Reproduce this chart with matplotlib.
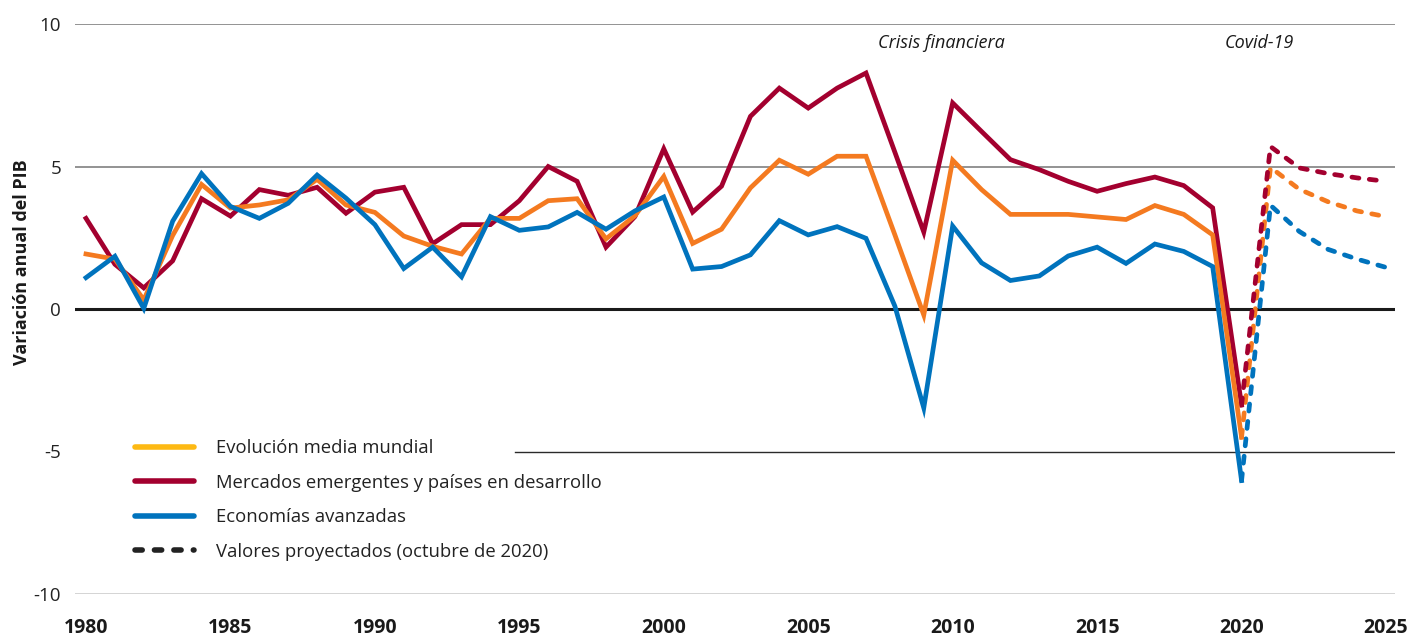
import matplotlib
matplotlib.use("Agg")
import matplotlib.pyplot as plt
from matplotlib.lines import Line2D

plt.rcParams['font.family'] = ['Open Sans', 'DejaVu Sans']

years = list(range(1980, 2021))
world = [1.93, 1.75, 0.32, 2.58, 4.37, 3.54, 3.65, 3.83, 4.55, 3.65,
         3.39, 2.56, 2.20, 1.93, 3.18, 3.18, 3.80, 3.87, 2.46, 3.27,
         4.65, 2.30, 2.80, 4.25, 5.22, 4.73, 5.36, 5.36, 2.60, -0.21,
         5.22, 4.19, 3.32, 3.32, 3.32, 3.23, 3.14, 3.63, 3.32, 2.60,
         -4.50]
emde = [3.18, 1.57, 0.74, 1.69, 3.87, 3.26, 4.19, 3.99, 4.27, 3.36,
        4.10, 4.27, 2.29, 2.96, 2.96, 3.80, 5.00, 4.48, 2.17, 3.24,
        5.62, 3.40, 4.31, 6.76, 7.75, 7.05, 7.75, 8.28, 5.50, 2.70,
        7.23, 6.23, 5.24, 4.89, 4.48, 4.13, 4.40, 4.63, 4.33, 3.55,
        -3.37]
adv = [1.10, 1.85, 0.02, 3.08, 4.75, 3.60, 3.18, 3.71, 4.70, 3.89,
       2.96, 1.42, 2.17, 1.13, 3.24, 2.76, 2.88, 3.39, 2.80, 3.44,
       3.93, 1.40, 1.49, 1.90, 3.10, 2.60, 2.89, 2.48, 0.10, -3.47,
       2.91, 1.62, 1.00, 1.16, 1.86, 2.17, 1.60, 2.28, 2.02, 1.49,
       -6.02]

proj_years = [2020, 2021, 2022, 2023, 2024, 2025]
world_proj = [-4.50, 4.97, 4.20, 3.76, 3.44, 3.24]
emde_proj = [-3.37, 5.70, 4.95, 4.75, 4.60, 4.48]
adv_proj = [-6.02, 3.64, 2.72, 2.09, 1.75, 1.46]

yticks = [-10, -5, 0, 5, 10]
xticks = [1980, 1985, 1990, 1995, 2000, 2005, 2010, 2015, 2020, 2025]

labels = ["Evolución media mundial",
          "Mercados emergentes y países en desarrollo",
          "Economías avanzadas",
          "Valores proyectados (octubre de 2020)"]

c_world = "#F47A20"
c_world_leg = "#FDB913"
c_emde = "#A3002F"
c_adv = "#0073BD"

W, H = 1416, 641
fig = plt.figure(figsize=(W / 100, H / 100), dpi=100)
ax = fig.add_axes([75 / W, (H - 594) / H, 1320 / W, 570 / H])
px_per_year = 28.9
ax.set_xlim(1980 - 11 / px_per_year, 2025 + 9 / px_per_year)
ax.set_ylim(-10, 10)

# reference lines
ax.axhline(10, color="#8a8a8a", lw=1.3, zorder=1)
ax.axhline(5, color="#8a8a8a", lw=1.3, zorder=1)
ax.axhline(0, color="#1a1a1a", lw=2.2, zorder=1)
ax.axhline(-5, xmin=(515 - 75) / 1320, color="#2a2a2a", lw=1.0, zorder=1)
ax.axhline(-10, color="#2a2a2a", lw=1.0, zorder=1)

lw = 3.4
dash = dict(lw=lw, linestyle=(0, (1.5, 2.2)), dash_capstyle="round", zorder=3)
ax.plot(proj_years, world_proj, color=c_world, **dash)
ax.plot(proj_years, adv_proj, color=c_adv, **dash)
ax.plot(proj_years, emde_proj, color=c_emde, **dash)

ax.plot(years, emde, color=c_emde, lw=lw, solid_joinstyle="miter", zorder=4)
ax.plot(years, world, color=c_world, lw=lw, solid_joinstyle="miter", zorder=5)
ax.plot(years, adv, color=c_adv, lw=lw, solid_joinstyle="miter", zorder=6)

for s in ax.spines.values():
    s.set_visible(False)
ax.set_yticks(yticks)
ax.set_yticklabels([str(v) for v in yticks], fontsize=13.5, color="#222222")
ax.set_xticks(xticks)
ax.set_xticklabels([str(v) for v in xticks], fontsize=14, fontweight="bold", color="#1a1a1a")
ax.tick_params(axis="y", length=0, pad=10)
ax.tick_params(axis="x", length=0, pad=17)

fig.text(22 / W, 1 - 262 / H, "Variación anual del PIB", rotation=90,
         ha="center", va="center", fontsize=13, fontweight="bold", color="#1a1a1a")

ax.text(2009.6, 9.33, "Crisis financiera", style="italic", fontsize=13,
        ha="center", va="center", color="#1a1a1a")
ax.text(2020.6, 9.33, "Covid-19", style="italic", fontsize=13,
        ha="center", va="center", color="#1a1a1a")

handles = [
    Line2D([], [], color=c_world_leg, lw=4, solid_capstyle="round"),
    Line2D([], [], color=c_emde, lw=4, solid_capstyle="round"),
    Line2D([], [], color=c_adv, lw=4, solid_capstyle="round"),
    Line2D([], [], color="#222222", lw=4, linestyle=(0, (1.3, 2.2)), dash_capstyle="round"),
]
fig.legend(handles, labels, loc="upper left",
           bbox_to_anchor=(135 / W, 1 - 439 / H), frameon=False,
           fontsize=13.3, handlelength=3.2, handletextpad=1.2,
           labelspacing=0.9, borderpad=0, borderaxespad=0, labelcolor="#222222")

fig.savefig("out.png", dpi=100)
